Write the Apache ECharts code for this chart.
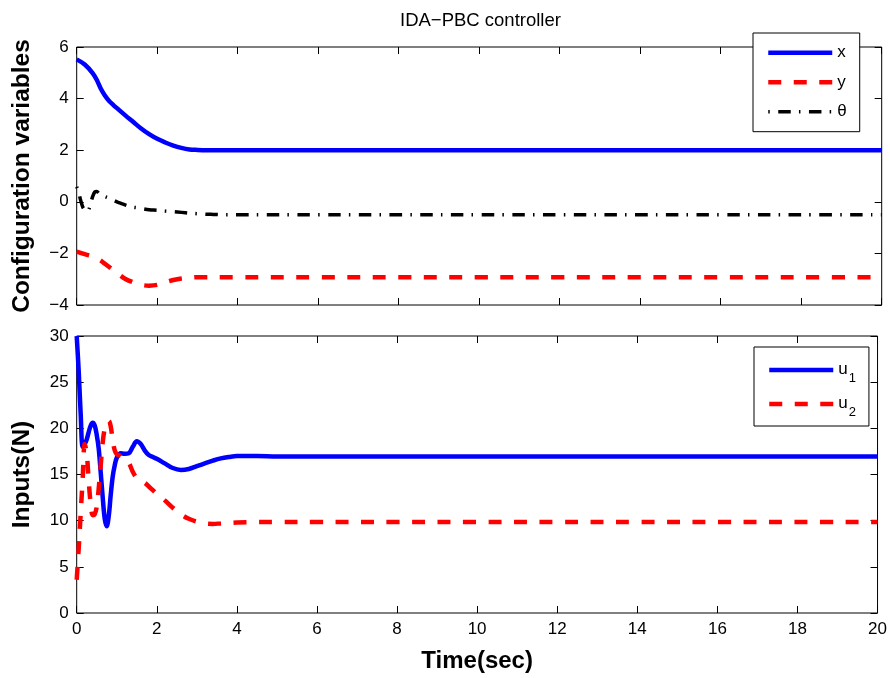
<!DOCTYPE html>
<html>
<head>
<meta charset="utf-8">
<script src="https://cdn.jsdelivr.net/npm/echarts@6/dist/echarts.min.js"></script>
<style>html,body{margin:0;padding:0;background:#fff;}#chart{width:890px;height:678px;}</style>
</head>
<body>
<div id="chart"></div>
<script>
// ---- Data ----
const xTicks = [0, 2, 4, 6, 8, 10, 12, 14, 16, 18, 20];
const yTicksTop = [-4, -2, 0, 2, 4, 6];
const yTicksBottom = [0, 5, 10, 15, 20, 25, 30];

const tTop = [0,0.2,0.4,0.5,0.6,0.7,0.8,0.9,1.0,1.2,1.4,1.6,1.8,2.0,2.2,2.4,2.6,2.8,3.0,3.2,3.6,4,6,8,10,12,14,16,18,20];
const xVals = [5.52,5.32,4.98,4.72,4.38,4.12,3.92,3.77,3.63,3.36,3.10,2.84,2.62,2.44,2.30,2.18,2.09,2.03,2.01,2.0,2.0,2.0,2.0,2.0,2.0,2.0,2.0,2.0,2.0,2.0];
const yVals = [-1.93,-2.03,-2.12,-2.19,-2.28,-2.40,-2.52,-2.64,-2.76,-2.98,-3.12,-3.22,-3.25,-3.22,-3.12,-3.03,-2.97,-2.94,-2.92,-2.92,-2.92,-2.92,-2.92,-2.92,-2.92,-2.92,-2.92,-2.92,-2.92,-2.92];

const tTheta = [0,0.05,0.1,0.15,0.2,0.25,0.3,0.35,0.4,0.45,0.5,0.55,0.6,0.7,0.8,0.9,1.0,1.1,1.2,1.3,1.4,1.5,1.6,1.8,2.0,2.2,2.4,2.6,2.8,3.0,3.2,3.4,3.6,4,6,8,10,12,14,16,18,20];
const thetaVals = [0.58,0.35,0.05,-0.2,-0.32,-0.38,-0.3,-0.05,0.22,0.38,0.4,0.33,0.26,0.2,0.14,0.07,0.0,-0.06,-0.12,-0.17,-0.21,-0.23,-0.26,-0.31,-0.33,-0.36,-0.38,-0.41,-0.44,-0.46,-0.48,-0.49,-0.5,-0.5,-0.5,-0.5,-0.5,-0.5,-0.5,-0.5,-0.5,-0.5];

const tU = [0,0.05,0.1,0.15,0.2,0.25,0.3,0.35,0.4,0.45,0.5,0.55,0.6,0.65,0.7,0.75,0.8,0.85,0.9,0.95,1.0,1.1,1.2,1.3,1.4,1.5,1.6,1.7,1.8,1.9,2.0,2.2,2.4,2.6,2.8,3.0,3.2,3.4,3.6,3.8,4.0,4.5,5,6,8,10,12,14,16,18,20];
const u1Vals = [30,26.2,21.5,18.0,18.3,18.8,19.6,20.3,20.6,20.3,19.3,17.8,15.2,12.5,10.2,9.4,10.5,12.8,14.8,16.0,16.8,17.3,17.25,17.3,18.0,18.6,18.3,17.6,17.1,16.9,16.7,16.2,15.7,15.5,15.6,15.9,16.2,16.5,16.75,16.9,17.0,17.0,16.95,16.95,16.95,16.95,16.95,16.95,16.95,16.95,16.95];
const u2Vals = [3.6,7.0,10.8,14.6,18.3,17.3,14.3,11.8,10.6,10.7,11.5,13.5,16.0,18.5,20.0,20.7,20.8,20.2,18.7,17.6,17.2,17.0,16.8,16.3,15.3,14.6,14.3,14.1,13.7,13.3,12.9,12.2,11.4,10.7,10.2,9.9,9.7,9.65,9.7,9.75,9.8,9.85,9.85,9.85,9.85,9.85,9.85,9.85,9.85,9.85,9.85];

const seriesNamesTop = ['x', 'y', '\u03b8'];
const seriesNamesBottom = ['u1', 'u2'];
const titleText = 'IDA\u2212PBC controller';
const xName = 'Time(sec)';
const yNameTop = 'Configuration variables';
const yNameBottom = 'Inputs(N)';

// ---- Chart ----
const FONT = 'Liberation Sans, Arial, sans-serif';
const zip = (t, v) => t.map((ti, i) => [ti, v[i]]);
const chart = echarts.init(document.getElementById('chart'), null, {renderer: 'canvas'});

const tickStyle = {show: true, inside: true, length: 7, lineStyle: {color: '#000', width: 1}};
function xAx(grid, pos, labels, name) {
  const a = {
    gridIndex: grid, type: 'value', position: pos,
    min: xTicks[0], max: xTicks[xTicks.length - 1], interval: xTicks[1] - xTicks[0],
    axisLine: {show: false, onZero: false}, axisTick: tickStyle, splitLine: {show: false},
    axisLabel: {show: labels, color: '#000', fontFamily: FONT, fontSize: 17, margin: 8}
  };
  if (name) {
    a.name = name; a.nameLocation = 'middle'; a.nameGap = 36;
    a.nameTextStyle = {color: '#000', fontFamily: FONT, fontSize: 24, fontWeight: 'bold'};
  }
  return a;
}
function yAx(grid, pos, ticks, labels, name) {
  const a = {
    gridIndex: grid, type: 'value', position: pos,
    min: ticks[0], max: ticks[ticks.length - 1], interval: ticks[1] - ticks[0],
    axisLine: {show: false, onZero: false}, axisTick: tickStyle, splitLine: {show: false},
    axisLabel: {show: labels, color: '#000', fontFamily: FONT, fontSize: 17, margin: 8,
      formatter: v => (v < 0 ? '\u2212' + Math.abs(v) : String(v))}
  };
  if (name) {
    a.name = name; a.nameLocation = 'middle'; a.nameGap = 42; a.nameRotate = 90;
    a.nameTextStyle = {color: '#000', fontFamily: FONT, fontSize: 24.5, fontWeight: 'bold'};
  }
  return a;
}

const legendBase = {
  orient: 'vertical', itemWidth: 64, itemHeight: 18, selectedMode: false,
  backgroundColor: '#fff', borderColor: '#000', borderWidth: 1, borderRadius: 0,
  textStyle: {color: '#000', fontFamily: FONT, fontSize: 17, lineHeight: 18},
  lineStyle: {width: 4.5},
  itemStyle: {opacity: 0, color: 'rgba(0,0,0,0)', borderColor: 'rgba(0,0,0,0)', borderWidth: 0}
};

const option = {
  animation: false,
  backgroundColor: '#fff',
  title: {
    text: titleText, left: 400, top: 11, padding: 0,
    textStyle: {color: '#000', fontFamily: FONT, fontSize: 18.5, fontWeight: 'normal'}
  },
  grid: [
    {left: 76.7, top: 47, right: 8.3, height: 258, show: true, borderColor: '#000', borderWidth: 1, backgroundColor: '#fff'},
    {left: 76.7, top: 336, right: 8.3, height: 277, show: true, borderColor: '#000', borderWidth: 1, backgroundColor: '#fff'}
  ],
  xAxis: [
    xAx(0, 'bottom', false), xAx(0, 'top', false),
    xAx(1, 'bottom', true, xName), xAx(1, 'top', false)
  ],
  yAxis: [
    yAx(0, 'left', yTicksTop, true, yNameTop), yAx(0, 'right', yTicksTop, false),
    yAx(1, 'left', yTicksBottom, true, yNameBottom), yAx(1, 'right', yTicksBottom, false)
  ],
  legend: [
    Object.assign({}, legendBase, {
      left: 753, top: 33, padding: [10.7, 13, 11, 13], itemGap: 11.5,
      data: [{name: seriesNamesTop[0]}, {name: seriesNamesTop[1]}, {name: seriesNamesTop[2], lineStyle: {width: 3.5}}]
    }),
    Object.assign({}, legendBase, {
      left: 754, top: 347, padding: [11, 13, 7, 13], itemGap: 7,
      data: seriesNamesBottom,
      formatter: n => '{m|u}{s|' + n.slice(1) + '}',
      textStyle: {color: '#000', fontFamily: FONT, fontSize: 17,
        rich: {
          m: {fontFamily: FONT, fontSize: 17, lineHeight: 24, padding: [3, 0, 0, 0], verticalAlign: 'top', color: '#000'},
          s: {fontFamily: FONT, fontSize: 13, lineHeight: 14, padding: [14, 0, 0, 1], verticalAlign: 'top', color: '#000'}
        }}
    })
  ],
  series: [
    {name: seriesNamesTop[0], type: 'line', xAxisIndex: 0, yAxisIndex: 0, data: zip(tTop, xVals),
      symbol: 'none', smooth: 0.35, lineStyle: {color: '#0000ff', width: 4.5}, itemStyle: {color: '#0000ff'}},
    {name: seriesNamesTop[1], type: 'line', xAxisIndex: 0, yAxisIndex: 0, data: zip(tTop, yVals),
      symbol: 'none', smooth: 0.35, lineStyle: {color: '#ff0000', width: 4.5, type: [13, 12.5]}, itemStyle: {color: '#ff0000'}},
    {name: seriesNamesTop[2], type: 'line', xAxisIndex: 0, yAxisIndex: 0, data: zip(tTheta, thetaVals),
      symbol: 'none', smooth: 0.35, lineStyle: {color: '#000', width: 3.5, type: [1.5, 8.5, 12.5, 8.2]}, itemStyle: {color: '#000'}},
    {name: seriesNamesBottom[0], type: 'line', xAxisIndex: 2, yAxisIndex: 2, data: zip(tU, u1Vals),
      symbol: 'none', smooth: 0.35, lineStyle: {color: '#0000ff', width: 4.5}, itemStyle: {color: '#0000ff'}},
    {name: seriesNamesBottom[1], type: 'line', xAxisIndex: 2, yAxisIndex: 2, data: zip(tU, u2Vals),
      symbol: 'none', smooth: 0.35, lineStyle: {color: '#ff0000', width: 4.5, type: [13, 12.5]}, itemStyle: {color: '#ff0000'}}
  ]
};
chart.setOption(option);
</script>
</body>
</html>
